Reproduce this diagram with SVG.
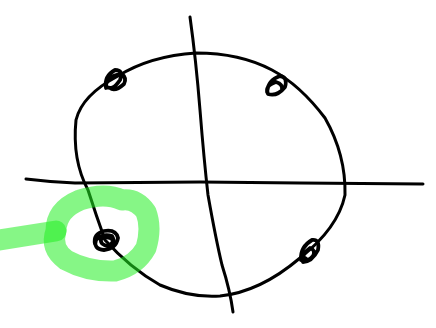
<svg xmlns="http://www.w3.org/2000/svg" width="436" height="328" viewBox="0 0 436 328">
<style>
.ink{fill:none;stroke:#000;stroke-width:3;stroke-linecap:round;stroke-linejoin:round}
.mk{stroke-width:3.8}
.hl{fill:none;stroke:#22ee22;stroke-opacity:0.55;stroke-width:21;stroke-linecap:round;stroke-linejoin:round}
</style>
<rect width="436" height="328" fill="#fff"/>
<g id="axes">
<path class="ink" d="M26 179 Q50 182 75 183 L200 182 L300 183 L423 184"/>
<path class="ink" d="M190 17 Q196 60 200 110 Q204 160 208 195 Q216 240 222 265 Q230 290 233 312"/>
</g>
<g id="curve">
<path class="ink" d="M196 53 Q150 56 118 76 Q82 95 76 120 Q72 160 88 190 Q96 215 105 240 Q130 268 160 285 Q190 298 220 296 Q260 292 300 258 Q338 228 345 195 Q346 155 325 118 Q300 85 272 70 Q240 53 196 53 Z"/>
</g>
<g id="marks">
<path class="ink mk" d="M106 88 Q104 76 115 70 Q124 70 120 80 Q112 92 106 86 Q106 76 122 74 Q127 78 124 84 Q115 92 110 88"/>
<path class="ink mk" d="M267 92 Q268 80 280 76 Q288 77 285 87 Q277 97 268 94 Q264 86 276 82 Q283 84 282 90"/>
<path class="ink mk" d="M301 260 Q300 247 312 240 Q320 239 318 250 Q312 262 303 262 Q301 254 310 248 Q316 250 313 256 Q308 262 305 258" stroke-width="4.5"/>
<path class="ink mk" d="M95 244 Q93 234 104 231 Q116 229 118 238 Q116 249 104 250 Q93 249 96 240 Q103 233 112 236 Q116 242 108 246 Q100 245 101 239 Q108 235 113 240" stroke-width="4.5"/>
</g>
<g id="highlight">
<path class="hl" d="M0 240 L56 231"/>
<path class="hl" d="M56 231 Q56 210 80 200 Q105 192 122 200 Q136 198 146 212 Q152 228 146 248 Q136 266 115 271 Q88 272 66 260 Q50 248 56 231"/>
</g>
</svg>
